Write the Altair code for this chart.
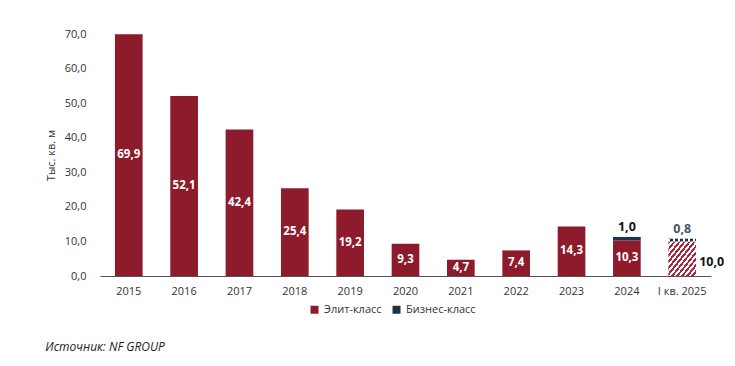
import altair as alt
import pandas as pd

years = ["2015", "2016", "2017", "2018", "2019", "2020", "2021", "2022", "2023", "2024", "I кв. 2025"]
elite = [69.9, 52.1, 42.4, 25.4, 19.2, 9.3, 4.7, 7.4, 14.3, 10.3, 10.0]
business = [0.0, 0.0, 0.0, 0.0, 0.0, 0.0, 0.0, 0.0, 0.0, 1.0, 0.8]
classes = ["Элит-класс", "Бизнес-класс"]
colors = ["#8E1B2C", "#1E3248"]
ticks = [0, 10, 20, 30, 40, 50, 60, 70]

def fmt(v):
    return f"{v:.1f}".replace(".", ",")

rows = []
for y, e, b in zip(years, elite, business):
    rows.append({"year": y, "cls": classes[0], "ord": 0, "value": e, "q": y == years[-1]})
    rows.append({"year": y, "cls": classes[1], "ord": 1, "value": b, "q": y == years[-1]})
df = pd.DataFrame(rows)

lab = pd.DataFrame({
    "year": years,
    "elite": elite,
    "business": business,
    "top": [e + b for e, b in zip(elite, business)],
    "mid": [e / 2 for e in elite],
    "elab": [fmt(e) for e in elite],
    "blab": [fmt(b) if b > 0 else "" for b in business],
})

def stripes(c, n=11):
    stops = []
    for i in range(n):
        a = i / n
        m = (i + 0.5) / n
        b = (i + 1) / n
        stops += [alt.GradientStop(offset=a, color=c), alt.GradientStop(offset=m, color=c),
                  alt.GradientStop(offset=m, color="#ffffff"), alt.GradientStop(offset=b, color="#ffffff")]
    return alt.LinearGradient(gradient="linear", x1=0, y1=0, x2=1, y2=1, stops=stops)

xscale = alt.Scale(paddingInner=0.5, paddingOuter=0.27)
xaxis = alt.Axis(title=None, labelAngle=0, ticks=False, domainColor="#555555",
                 labelFontSize=11, labelColor="#333333", labelPadding=9)
yscale = alt.Scale(domain=[0, 70])
yaxis = alt.Axis(title="Тыс. кв. м", values=ticks,
                 labelExpr="replace(format(datum.value, '.1f'), '.', ',')",
                 labelOverlap=False, labelFlush=False,
                 grid=False, domain=False, ticks=False, labelPadding=14,
                 labelFontSize=11, labelColor="#333333", titleFontSize=11,
                 titleFontWeight="normal", titleColor="#333333", titlePadding=8)

def X():
    return alt.X("year:N", sort=years, scale=xscale, axis=xaxis)

def Y(field, stack=None):
    if stack:
        return alt.Y(field, stack=stack, scale=yscale, axis=yaxis)
    return alt.Y(field, scale=yscale, axis=yaxis)

base = alt.Chart(df)
bars = base.transform_filter("!datum.q").mark_bar().encode(
    x=X(), y=Y("value:Q", "zero"),
    color=alt.Color("cls:N", scale=alt.Scale(domain=classes, range=colors),
                    legend=alt.Legend(title=None, orient="none", direction="horizontal",
                                      legendX=209, legendY=270, symbolType="square",
                                      symbolSize=64, labelFontSize=11, labelColor="#333333",
                                      columnPadding=9, symbolStrokeWidth=0)),
    order=alt.Order("ord:Q"),
)
hatch = base.transform_filter("datum.q").mark_bar().encode(
    x=X(), y=Y("value:Q", "zero"),
    detail="cls:N",
    order=alt.Order("ord:Q"),
    fill=alt.condition("datum.ord == 0", alt.value(stripes("#A8283B")), alt.value(stripes("#1E3248"))),
)

lb = alt.Chart(lab)
inner = lb.transform_filter("datum.year != 'I кв. 2025'").mark_text(
    color="white", fontWeight="bold", fontSize=11.5, font="Open Sans").encode(
    x=X(), y=Y("mid:Q"), text="elab:N")
side = lb.transform_filter("datum.year == 'I кв. 2025'").mark_text(
    color="#111111", fontWeight="bold", fontSize=12.5, align="left", dx=17, dy=3, font="Open Sans").encode(
    x=X(), y=Y("mid:Q"), text="elab:N")
toplab = lb.transform_filter("datum.business > 0").mark_text(
    fontWeight="bold", fontSize=12.5, baseline="bottom", dy=-3, font="Open Sans").encode(
    x=X(), y=Y("top:Q"), text="blab:N",
    color=alt.condition("datum.year == 'I кв. 2025'", alt.value("#3C566E"), alt.value("#111111")))

chart = alt.layer(bars, hatch, inner, side, toplab).properties(
    width=611, height=242,
    autosize=alt.AutoSizeParams(type="none"),
    padding={"left": 92, "top": 26, "right": 16, "bottom": 80},
    title=alt.TitleParams(text="Источник: NF GROUP", orient="bottom", anchor="start",
                          fontSize=12, fontStyle="italic", fontWeight="normal", color="#222222",
                          font="Open Sans", dx=0, offset=27),
).configure(font="Open Sans").configure_view(stroke=None)

chart.save("out.html", embed_options={"renderer": "svg", "actions": False})
